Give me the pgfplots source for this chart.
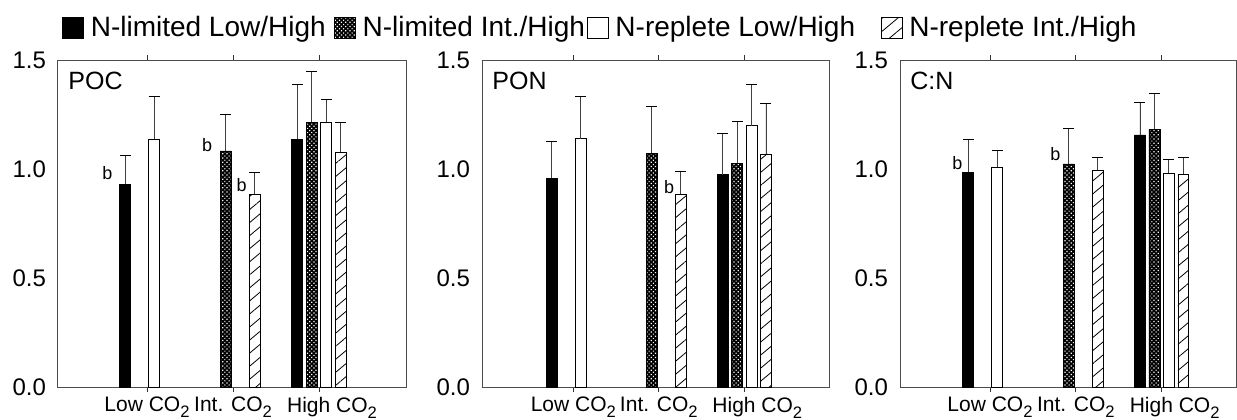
\documentclass[border=0pt]{standalone}
\usepackage{fontspec}
\setmainfont{Liberation Sans}
\usepackage{pgfplots}
\usepackage{pgfplotstable}
\pgfplotsset{compat=1.18}
\usetikzlibrary{patterns.meta}

% subscript 2 as drawn in the original (large, dropped)
\newcommand{\co}{CO\raisebox{-3.1pt}{\fontsize{8.3}{9}\selectfont 2}}

% columns: group, then value and upward error for the four treatments
\pgfplotstableread{
x s1 e1 s2 e2 s3 e3 s4 e4
1 0.930 0.131 nan nan 1.136 0.196 nan nan
2 nan nan 1.083 0.168 nan nan 0.885 0.098
3 1.136 0.251 1.214 0.232 1.214 0.106 1.077 0.137
}\poc
\pgfplotstableread{
x s1 e1 s2 e2 s3 e3 s4 e4
1 0.957 0.168 nan nan 1.139 0.196 nan nan
2 nan nan 1.072 0.217 nan nan 0.885 0.106
3 0.974 0.190 1.026 0.193 1.199 0.188 1.069 0.234
}\pon
\pgfplotstableread{
x s1 e1 s2 e2 s3 e3 s4 e4
1 0.986 0.150 nan nan 1.008 0.075 nan nan
2 nan nan 1.023 0.165 nan nan 0.994 0.060
3 1.156 0.150 1.183 0.163 0.980 0.064 0.975 0.077
}\cn

\tikzset{
  s1/.style={fill=black, draw=black},
  s2/.style={fill=black, draw=black,
    postaction={pattern={Dots[distance=1.5pt, radius=0.42pt, angle=45]}, pattern color=white}},
  s3/.style={fill=white, draw=black},
  s4/.style={fill=white, draw=black,
    postaction={pattern={Lines[angle=40, distance=5pt, line width=0.4pt]}, pattern color=black}},
  tag/.style={font=\fontsize{9}{10}\selectfont},
  ttl/.style={anchor=north west, inner sep=0pt, font=\fontsize{12.5}{14}\selectfont},
}

\pgfplotsset{
  panel/.style={
    scale only axis,
    height=163.5pt,
    ybar,
    bar width=0.128,
    ymin=0, ymax=1.5,
    ytick={0,0.5,1,1.5},
    yticklabel style={font=\fontsize{12}{14}\selectfont,
      /pgf/number format/fixed, /pgf/number format/fixed zerofill,
      /pgf/number format/precision=1},
    /pgf/number format/assume math mode=true,
    xticklabel style={font=\fontsize{10.5}{12}\selectfont, inner sep=0pt,
      anchor=north, yshift=-2.3pt},
    xtick={1,2,3},
    xticklabels={Low \co, Int. \co, \hspace{13pt}High \co},
    ytick style={draw=none},
    xtick style={black!80, line width=0.5pt},
    tick align=outside,
    major tick length=2.5pt,
    axis line style={black!70, line width=0.5pt},
    every axis plot/.append style={line width=0.4pt},
    error bars/y dir=plus,
    error bars/y explicit,
    error bars/error bar style={line width=0.45pt, black!75},
    error bars/error mark options={rotate=90, line width=0.45pt, mark size=2.75pt, black},
    clip=false,
    legend image code/.code={\draw[#1] (0pt,-5.25pt) rectangle (10.5pt,5.25pt);},
  },
}

\newcommand{\bars}[1]{
  \addplot[s1, bar shift=-0.253] table[x=x, y=s1, y error=e1] {#1};
  \addplot[s2, bar shift=-0.084] table[x=x, y=s2, y error=e2] {#1};
  \addplot[s3, bar shift=0.084] table[x=x, y=s3, y error=e3] {#1};
  \addplot[s4, bar shift=0.253] table[x=x, y=s4, y error=e4] {#1};
}

\begin{document}
\begin{tikzpicture}
\useasboundingbox (0,0) rectangle (618.5pt,209.5pt);

\begin{axis}[panel, at={(29pt,16pt)}, anchor=south west, width=174.5pt,
  xmin=-0.035, xmax=4.023,
  legend columns=4,
  legend style={at={(0.0115,1.099)}, anchor=west, draw=none, fill=none,
    font=\fontsize{14}{16}\selectfont,
    nodes={font=\fontsize{14}{16}\selectfont, inner sep=0pt},
    inner sep=0pt,
    /tikz/every odd column/.append style={column sep=3.3pt},
    /tikz/column 2/.style={column sep=4.2pt},
    /tikz/column 4/.style={column sep=1pt},
    /tikz/column 6/.style={column sep=12.9pt}},
]
\bars{\poc}
\legend{N-limited Low/High, N-limited Int./High, N-replete Low/High, N-replete Int./High}
\node[ttl] at ([xshift=5pt, yshift=-5.8pt]rel axis cs:0,1) {POC};
\node[tag] at (axis cs:0.54,0.98) {b};
\node[tag] at (axis cs:1.70,1.11) {b};
\node[tag] at (axis cs:2.10,0.927) {b};
\end{axis}

\begin{axis}[panel, at={(241pt,16pt)}, anchor=south west, width=173.5pt,
  xmin=-0.068, xmax=3.99]
\bars{\pon}
\node[ttl] at ([xshift=5pt, yshift=-5.8pt]rel axis cs:0,1) {PON};
\node[tag] at (axis cs:2.12,0.919) {b};
\end{axis}

\begin{axis}[panel, at={(450pt,16pt)}, anchor=south west, width=168pt,
  xmin=-0.049, xmax=3.866]
\bars{\cn}
\node[ttl] at ([xshift=5pt, yshift=-5.8pt]rel axis cs:0,1) {C:N};
\node[tag] at (axis cs:0.62,1.026) {b};
\node[tag] at (axis cs:1.76,1.069) {b};
\end{axis}
\end{tikzpicture}
\end{document}
